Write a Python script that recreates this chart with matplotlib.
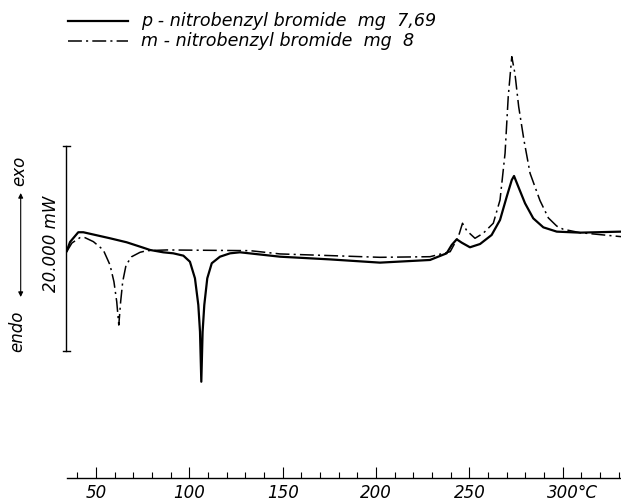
import numpy as np
import matplotlib
matplotlib.use("Agg")
import matplotlib.pyplot as plt
from matplotlib.lines import Line2D

plt.rcParams['lines.scale_dashes'] = False

# DSC traces (temperature in degC, heat flow in mW, 0 = start level)
p_temp = [34.3, 36.1, 40.5, 43.2, 57.5, 66.4, 75.3, 78.9, 86.0, 91.4, 96.8, 100.3, 103.0, 104.8,
          105.7, 106.4, 107.1, 108.0, 109.6, 112.0, 116.4, 121.8, 127.1, 148.6, 175.0, 202.1,
          228.9, 237.8, 240.5, 243.2, 245.9, 250.3, 255.7, 261.9, 266.4, 270.0, 272.7, 273.9,
          276.2, 279.8, 284.2, 289.6, 296.8, 309.3, 331.2]
p_flow = [0.05, 0.95, 1.90, 1.90, 1.31, 0.92, 0.39, 0.17, -0.06, -0.16, -0.39, -0.98, -2.60, -5.21,
          -7.82, -12.71, -7.82, -5.21, -2.60, -1.13, -0.49, -0.16, -0.06, -0.49, -0.75, -1.07,
          -0.81, -0.16, 0.65, 1.21, 0.88, 0.43, 0.75, 1.63, 3.10, 5.38, 7.01, 7.40,
          6.35, 4.73, 3.26, 2.38, 1.96, 1.86, 1.96]

m_temp = [34.3, 37.1, 41.4, 44.1, 48.6, 53.9, 57.5, 59.6, 61.1, 62.2, 63.2, 64.3, 66.1, 69.1,
          73.6, 77.2, 87.9, 132.5, 148.6, 175.0, 202.1, 228.9, 239.7, 244.1, 246.3, 248.6,
          253.0, 257.4, 262.8, 266.4, 269.1, 270.8, 272.7, 274.4, 276.4, 279.2, 282.5, 287.8,
          292.3, 296.8, 300.3, 309.2, 331.2]
m_flow = [0.0, 0.85, 1.37, 1.37, 0.98, 0.17, -1.30, -2.93, -4.89, -7.17, -4.89, -2.93, -1.30, -0.49,
          -0.06, 0.10, 0.17, 0.10, -0.22, -0.38, -0.55, -0.49, 0.0, 1.47, 2.78, 2.05,
          1.31, 1.80, 2.78, 5.05, 9.62, 15.15, 19.06, 17.4, 14.17, 10.92, 7.66, 5.0,
          3.3, 2.5, 2.19, 1.86, 1.47]

tick_major = [50, 100, 150, 200, 250, 300]
tick_minor = list(range(40, 331, 10))
legend_labels = ["p - nitrobenzyl bromide  mg  7,69", "m - nitrobenzyl bromide  mg  8"]
scale_label = "20.000 mW"

dashdot = (0, (10, 3, 1.5, 3))

fig = plt.figure(figsize=(6.21, 5.01), dpi=100)
ax = fig.add_axes([0.1074, 0.0453, 0.8926, 0.9547])
ax.set_xlim(34.3, 331.2)
ax.set_ylim(-22.15, 24.6)

ax.plot(p_temp, p_flow, color='black', lw=1.6, solid_joinstyle='round')
ax.plot(m_temp, m_flow, color='black', lw=1.1, linestyle=dashdot)

for s in ['left', 'top', 'right']:
    ax.spines[s].set_visible(False)
ax.spines['bottom'].set_linewidth(1.0)
ax.set_yticks([])
ax.set_xticks(tick_major)
ax.set_xticklabels([str(t) for t in tick_major], fontsize=12, fontstyle='italic')
ax.set_xticks(tick_minor, minor=True)
ax.tick_params(axis='x', which='major', direction='in', length=8, width=0.8, pad=4)
ax.tick_params(axis='x', which='minor', direction='in', length=4, width=0.8)
ax.annotate("°C", xy=(307.6, 0), xycoords=('data', 'axes fraction'), xytext=(0, -4),
            textcoords='offset points', fontsize=12, fontstyle='italic', ha='left', va='top',
            annotation_clip=False)

# scale bar
ax.plot([33.8, 33.8], [-9.68, 10.33], color='black', lw=1.0, clip_on=False)
ax.plot([32.1, 36.1], [10.33, 10.33], color='black', lw=1.0, clip_on=False)
ax.plot([32.1, 36.1], [-9.68, -9.68], color='black', lw=1.0, clip_on=False)
fig.text(51.5 / 621, 1 - 244 / 501, scale_label, rotation=90, fontsize=12, fontstyle='italic',
         ha='center', va='center')

# endo / exo
fig.text(19 / 621, 1 - 171 / 501, "exo", rotation=90, fontsize=12, fontstyle='italic',
         ha='center', va='center')
fig.text(17 / 621, 1 - 331 / 501, "endo", rotation=90, fontsize=12, fontstyle='italic',
         ha='center', va='center')
fig.add_artist(plt.Annotation("", xy=(20.7 / 621, 1 - 193 / 501), xytext=(20.7 / 621, 1 - 297 / 501),
                              xycoords='figure fraction', textcoords='figure fraction',
                              arrowprops=dict(arrowstyle='<|-|>', color='black', lw=0.8,
                                              mutation_scale=7, shrinkA=0, shrinkB=0)))

# legend
rows = [20.5, 41.0]
styles = ['-', dashdot]
widths = [1.6, 1.1]
for y, ls, lw, lab in zip(rows, styles, widths, legend_labels):
    fig.add_artist(Line2D([68 / 621, 128 / 621], [1 - y / 501, 1 - y / 501], color='black',
                          lw=lw, linestyle=ls))
    fig.text(141 / 621, 1 - y / 501, lab, fontsize=12.6, fontstyle='italic', ha='left', va='center')

fig.savefig("out.png", dpi=100)
